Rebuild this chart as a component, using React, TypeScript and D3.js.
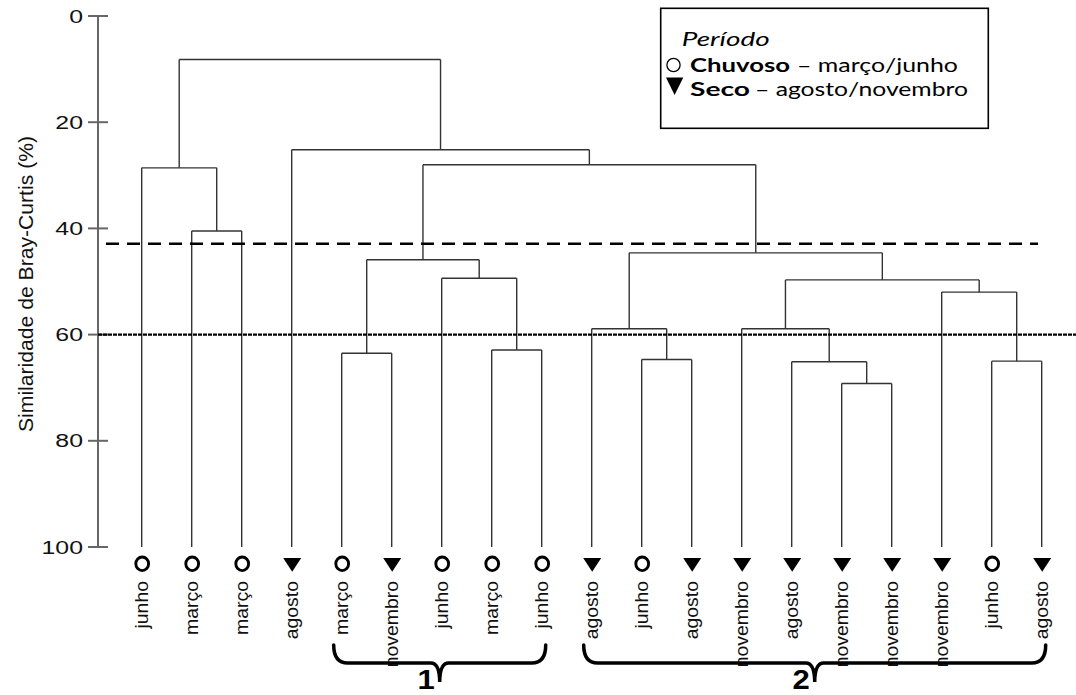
import React from "react";
import * as d3 from "d3";

// ---- data ----
const leafLabels = [
  "junho", "março", "março", "agosto", "março", "novembro", "junho", "março", "junho",
  "agosto", "junho", "agosto", "novembro", "agosto", "novembro", "novembro", "novembro", "junho", "agosto",
];
// C = chuvoso (circle), S = seco (triangle)
const leafPeriods = ["C", "C", "C", "S", "C", "S", "C", "C", "C", "S", "C", "S", "S", "S", "S", "S", "S", "C", "S"];

// merges: [child A, child B, similarity %]; node ids continue after the 19 leaves
const merges: [number, number, number][] = [
  [1, 2, 40.5],   // 19
  [0, 19, 28.6],  // 20
  [4, 5, 63.5],   // 21
  [7, 8, 62.9],   // 22
  [6, 22, 49.4],  // 23
  [21, 23, 45.9], // 24
  [10, 11, 64.7], // 25
  [9, 25, 58.9],  // 26
  [14, 15, 69.2], // 27
  [13, 27, 65.1], // 28
  [12, 28, 58.9], // 29
  [17, 18, 65.0], // 30
  [16, 30, 52.0], // 31
  [29, 31, 49.7], // 32
  [26, 32, 44.6], // 33
  [24, 33, 28.0], // 34
  [3, 34, 25.2],  // 35
  [20, 35, 8.2],  // 36
];

const yTicks = [0, 20, 40, 60, 80, 100];
const dashedCut = 42.9;
const dottedCut = 60;
const groupLabels = ["1", "2"];
const groupFrom = [4, 9];
const groupTo = [8, 18];

const legendTitle = "Período";
const legendNames = ["Chuvoso", "Seco"];
const legendMonths = ["– março/junho", "– agosto/novembro"];

const W = 1076;
const H = 695;

export default function App() {
  const y = d3.scaleLinear().domain([0, 100]).range([16, 547]);
  const x = d3
    .scalePoint<number>()
    .domain(d3.range(leafLabels.length))
    .range([141.7, 1041.7]);

  const nodes: { x: number; h: number }[] = leafLabels.map((_, i) => ({ x: x(i)!, h: 100 }));
  merges.forEach(([a, b, h]) => {
    nodes.push({ x: (nodes[a].x + nodes[b].x) / 2, h });
  });

  const lineColor = "#333";
  const axisColor = "#666";
  const font = "'Liberation Sans', Arial, sans-serif";
  const legendFont = "Lato, 'Open Sans', sans-serif";

  const bracePath = (x0: number, x1: number) => {
    const cx = (x0 + x1) / 2;
    const yTop = 645;
    const yMid = 663;
    const yTip = 682;
    return `M${x0},${yTop} Q${x0},${yMid} ${x0 + 14},${yMid} L${cx - 9},${yMid} Q${cx},${yMid} ${cx},${yTip} Q${cx},${yMid} ${cx + 9},${yMid} L${x1 - 14},${yMid} Q${x1},${yMid} ${x1},${yTop}`;
  };

  // legend layout
  const nameLen = [100, 60];
  const monthX = [797, 755];
  const monthLen = [161, 213];
  const rowBase = [72, 96];

  return (
    <svg width={W} height={H} style={{ position: "absolute", left: 0, top: 0, background: "#fff" }}>
      <rect x={0} y={0} width={W} height={H} fill="#fff" />

      {/* Y axis */}
      <line x1={98} x2={98} y1={y(0)} y2={y(100)} stroke={axisColor} strokeWidth={2} />
      {yTicks.map((t) => (
        <g key={t}>
          <line x1={88} x2={108} y1={y(t)} y2={y(t)} stroke={axisColor} strokeWidth={2} />
          <g transform={`translate(83,${y(t) + 6.5}) scale(1.38,1)`}>
            <text x={0} y={0} textAnchor="end" fontFamily={font} fontSize={18} fill="#111">
              {t}
            </text>
          </g>
        </g>
      ))}
      <g transform={`translate(33,284) rotate(-90)`}>
        <text
          x={0}
          y={0}
          textAnchor="middle"
          fontFamily={font}
          fontSize={20}
          fill="#111"
          textLength={296}
          lengthAdjust="spacingAndGlyphs"
        >
          Similaridade de Bray-Curtis (%)
        </text>
      </g>

      {/* dendrogram */}
      {merges.map(([a, b, h], i) => (
        <g key={i}>
          <line x1={nodes[a].x} x2={nodes[b].x} y1={y(h)} y2={y(h)} stroke={lineColor} strokeWidth={1.4} />
          <line x1={nodes[a].x} x2={nodes[a].x} y1={y(h)} y2={y(nodes[a].h)} stroke={lineColor} strokeWidth={1.4} />
          <line x1={nodes[b].x} x2={nodes[b].x} y1={y(h)} y2={y(nodes[b].h)} stroke={lineColor} strokeWidth={1.4} />
        </g>
      ))}

      {/* cut lines */}
      <line x1={106} x2={1038} y1={y(dashedCut)} y2={y(dashedCut)} stroke="#000" strokeWidth={2.6} strokeDasharray="13,8" />
      <line x1={98} x2={W} y1={y(dottedCut)} y2={y(dottedCut)} stroke="#000" strokeWidth={2.2} strokeDasharray="4,1" />

      {/* leaf markers and labels */}
      {leafLabels.map((lab, i) => {
        const lx = x(i)!;
        return (
          <g key={i}>
            {leafPeriods[i] === "C" ? (
              <ellipse cx={lx + 0.5} cy={563.8} rx={6.4} ry={6.8} fill="none" stroke="#000" strokeWidth={2.9} />
            ) : (
              <path d={`M${lx - 8.5},${558} L${lx + 9.5},${558} L${lx + 0.5},${571.7} Z`} fill="#000" />
            )}
            <g transform={`translate(${lx + 6.5},581) rotate(-90) scale(1.05,1)`}>
              <text x={0} y={0} textAnchor="end" fontFamily={font} fontSize={18.5} fill="#111">
                {lab}
              </text>
            </g>
          </g>
        );
      })}

      {/* group braces */}
      {groupLabels.map((g, i) => {
        const x0 = x(groupFrom[i])! - 8;
        const x1 = x(groupTo[i])! + 4;
        const cx = (x0 + x1) / 2;
        return (
          <g key={g}>
            <path d={bracePath(x0, x1)} fill="none" stroke="#000" strokeWidth={3.5} strokeLinecap="round" />
            <g transform={`translate(${cx - 5},689) scale(1.15,1)`}>
              <text x={0} y={0} textAnchor="end" fontFamily={font} fontWeight="bold" fontSize={27} fill="#000">
                {g}
              </text>
            </g>
          </g>
        );
      })}

      {/* legend */}
      <rect x={660.7} y={8.3} width={327.6} height={120} fill="#fff" stroke="#000" strokeWidth={1.6} />
      <text
        x={681.7}
        y={45.7}
        fontFamily={legendFont}
        fontStyle="italic"
        fontSize={19.5}
        fill="#000"
        textLength={88}
        lengthAdjust="spacingAndGlyphs"
      >
        {legendTitle}
      </text>
      <circle cx={673.5} cy={65} r={6.6} fill="#fff" stroke="#000" strokeWidth={1.3} />
      <path d="M666,77.5 L683.3,77.5 L674.6,95 Z" fill="#000" />
      {legendNames.map((n, i) => (
        <g key={n}>
          <text
            x={690}
            y={rowBase[i]}
            fontFamily={legendFont}
            fontWeight="bold"
            fontSize={19.5}
            fill="#000"
            textLength={nameLen[i]}
            lengthAdjust="spacingAndGlyphs"
          >
            {n}
          </text>
          <text
            x={monthX[i]}
            y={rowBase[i]}
            fontFamily={legendFont}
            fontSize={19.5}
            fill="#000"
            textLength={monthLen[i]}
            lengthAdjust="spacingAndGlyphs"
          >
            {legendMonths[i]}
          </text>
        </g>
      ))}
    </svg>
  );
}
